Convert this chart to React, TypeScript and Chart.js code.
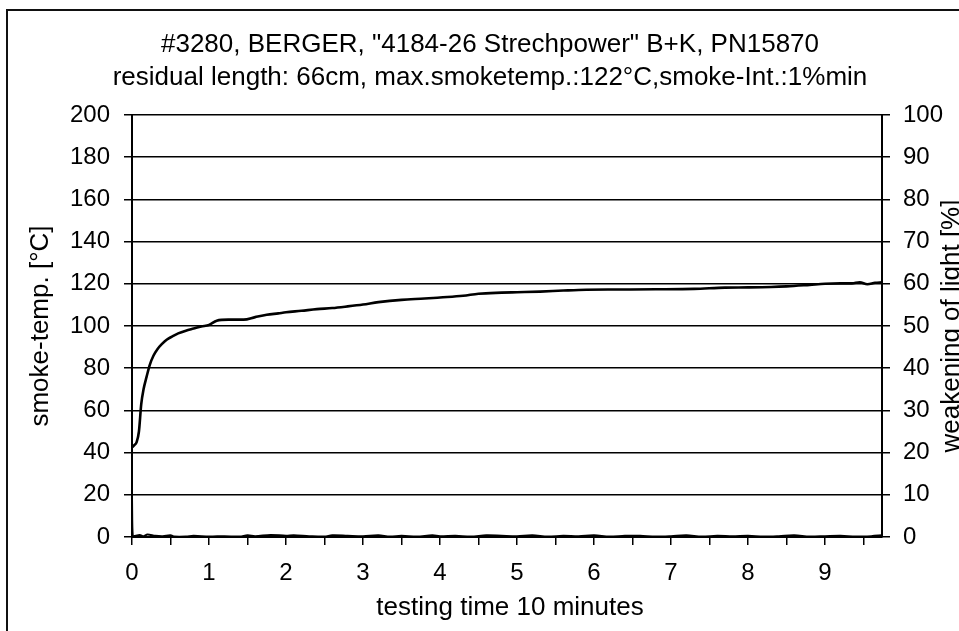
import React, { useEffect, useRef } from 'react';
import { Chart, registerables } from 'chart.js';

Chart.register(...registerables);

const W = 959;
const H = 631;
const FONT = '"Liberation Sans", Arial, sans-serif';

const TITLE = '#3280, BERGER, "4184-26 Strechpower" B+K, PN15870';
const SUBTITLE = 'residual length: 66cm, max.smoketemp.:122°C,smoke-Int.:1%min';
const X_TITLE = 'testing time 10 minutes';
const Y_TITLE = 'smoke-temp. [°C]';
const Y1_TITLE = 'weakening of light [%]';

// temperature curve (minutes, °C)
const tempTime = [0, 0.03, 0.06, 0.09, 0.12, 0.15, 0.19, 0.23, 0.28, 0.33,
  0.39, 0.45, 0.52, 0.6, 0.7, 0.8, 0.9, 1.0, 1.1, 1.25,
  1.45, 1.6, 1.75, 1.9, 2.0, 2.2, 2.4, 2.6, 2.8, 3.0,
  3.2, 3.5, 3.8, 4.0, 4.3, 4.5, 4.8, 5.0, 5.3, 5.6,
  5.9, 6.3, 6.8, 7.3, 7.7, 8.0, 8.3, 8.5, 8.8, 9.0,
  9.2, 9.35, 9.45, 9.55, 9.65, 9.74];
const tempValues = [42.5, 43.5, 45, 50, 63, 70, 76, 81.5, 86, 89,
  91.5, 93.5, 95, 96.5, 97.8, 98.8, 99.8, 100.5, 102.5, 103,
  103, 104.2, 105.3, 106, 106.5, 107.2, 108, 108.5, 109.3, 110.2,
  111.3, 112.4, 113, 113.5, 114.3, 115.3, 115.8, 116, 116.3, 116.8,
  117.2, 117.3, 117.4, 117.6, 118.2, 118.3, 118.5, 118.8, 119.5, 120,
  120.2, 120.2, 120.7, 119.8, 120.5, 120.7];

// smoke density (minutes, %)
const smokeTime = [0, 0.01, 0.1, 0.15, 0.2, 0.3, 0.4, 0.5, 0.55, 0.7,
  0.8, 1.0, 1.2, 1.4, 1.5, 1.6, 1.8, 2.0, 2.1, 2.3,
  2.5, 2.6, 2.8, 3.0, 3.2, 3.35, 3.5, 3.7, 3.9, 4.0,
  4.2, 4.4, 4.6, 4.8, 5.0, 5.2, 5.4, 5.6, 5.8, 6.0,
  6.2, 6.4, 6.6, 6.8, 7.0, 7.2, 7.4, 7.6, 7.8, 8.0,
  8.2, 8.4, 8.6, 8.8, 9.0, 9.2, 9.4, 9.6, 9.74];
const smokeValues = [9, 0.2, 0.5, 0.2, 0.6, 0.3, 0.2, 0.4, 0.1, 0.1,
  0.3, 0.1, 0.2, 0.1, 0.4, 0.2, 0.5, 0.3, 0.4, 0.2,
  0.1, 0.4, 0.3, 0.2, 0.4, 0.1, 0.3, 0.1, 0.4, 0.2,
  0.3, 0.1, 0.4, 0.3, 0.2, 0.4, 0.1, 0.3, 0.2, 0.4,
  0.1, 0.3, 0.3, 0.1, 0.2, 0.4, 0.1, 0.3, 0.2, 0.3,
  0.1, 0.2, 0.4, 0.1, 0.2, 0.3, 0.1, 0.2, 0.4];

const X_MAX = 9.74;

const textPlugin = {
  id: 'scanTexts',
  beforeDraw(chart: any) {
    const ctx = chart.ctx;
    ctx.save();
    ctx.fillStyle = '#fff';
    ctx.fillRect(0, 0, W, H);
    ctx.restore();
  },
  afterDraw(chart: any) {
    const ctx = chart.ctx;
    const area = chart.chartArea;
    const midY = (area.top + area.bottom) / 2;
    ctx.save();
    ctx.strokeStyle = '#111';
    ctx.lineWidth = 2;
    ctx.beginPath();
    ctx.moveTo(7, H);
    ctx.lineTo(7, 10);
    ctx.lineTo(W, 10);
    ctx.stroke();

    ctx.fillStyle = '#000';
    ctx.font = `26px ${FONT}`;
    ctx.textAlign = 'center';
    ctx.textBaseline = 'alphabetic';
    ctx.fillText(TITLE, 490, 52);
    ctx.fillText(SUBTITLE, 490, 85);
    ctx.fillText(X_TITLE, 510, 615);

    ctx.save();
    ctx.translate(48, midY);
    ctx.rotate(-Math.PI / 2);
    ctx.fillText(Y_TITLE, 0, 0);
    ctx.restore();

    ctx.save();
    ctx.translate(959, midY);
    ctx.rotate(-Math.PI / 2);
    ctx.fillText(Y1_TITLE, 0, 0);
    ctx.restore();

    ctx.restore();
  },
};

export default function App() {
  const ref = useRef<HTMLCanvasElement>(null);

  useEffect(() => {
    const canvas = ref.current;
    if (!canvas) return;
    const tickFont = { family: FONT, size: 24 };
    const chart = new Chart(canvas, {
      type: 'line',
      data: {
        datasets: [
          {
            label: 'smoke-temp',
            data: tempTime.map((t, i) => ({ x: t, y: tempValues[i] })),
            yAxisID: 'y',
            borderColor: '#000',
            borderWidth: 2.6,
            pointRadius: 0,
            fill: false,
            cubicInterpolationMode: 'monotone',
          },
          {
            label: 'weakening of light',
            data: smokeTime.map((t, i) => ({ x: t, y: smokeValues[i] })),
            yAxisID: 'y1',
            borderColor: '#000',
            borderWidth: 2,
            pointRadius: 0,
            fill: false,
            tension: 0.3,
          },
        ],
      },
      options: {
        responsive: false,
        animation: false,
        devicePixelRatio: 1,
        layout: { padding: { top: 115, left: 0, right: 0, bottom: 0 } },
        plugins: {
          legend: { display: false },
          tooltip: { enabled: false },
          title: { display: false },
        },
        scales: {
          x: {
            type: 'linear',
            position: 'bottom',
            min: 0,
            max: X_MAX,
            ticks: {
              stepSize: 0.5,
              includeBounds: false,
              autoSkip: false,
              maxRotation: 0,
              color: '#000',
              font: tickFont,
              padding: 14,
              callback: (v: any) => (Number.isInteger(Number(v)) ? String(v) : ''),
            },
            grid: { drawOnChartArea: false, drawTicks: true, tickLength: 8, color: '#000', lineWidth: 1.5 },
            border: { color: '#000', width: 2 },
            afterFit: (s: any) => { s.height = 94; },
          },
          y: {
            type: 'linear',
            position: 'left',
            min: 0,
            max: 200,
            ticks: { stepSize: 20, color: '#000', font: tickFont, padding: 14 },
            grid: { color: '#000', lineWidth: 1.5, tickLength: 8 },
            border: { color: '#000', width: 2 },
            afterFit: (s: any) => { s.width = 132; },
          },
          y1: {
            type: 'linear',
            position: 'right',
            min: 0,
            max: 100,
            ticks: { stepSize: 10, color: '#000', font: tickFont, padding: 13 },
            grid: { drawOnChartArea: false, color: '#000', lineWidth: 1.5, tickLength: 8 },
            border: { color: '#000', width: 2 },
            afterFit: (s: any) => { s.width = 77; },
          },
        },
      },
      plugins: [textPlugin],
    } as any);
    return () => chart.destroy();
  }, []);

  return (
    <div style={{ position: 'fixed', left: 0, top: 0, width: W, height: H, background: '#fff' }}>
      <canvas ref={ref} width={W} height={H} style={{ width: W + 'px', height: H + 'px', display: 'block' }} />
    </div>
  );
}
